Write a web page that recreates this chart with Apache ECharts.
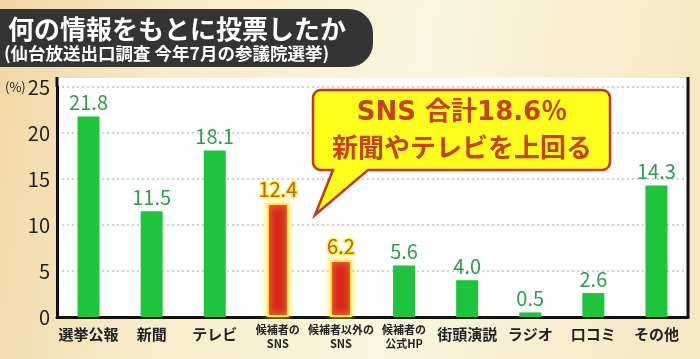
<!DOCTYPE html>
<html><head><meta charset="utf-8">
<script src="https://cdn.jsdelivr.net/npm/echarts@6/dist/echarts.min.js"></script>
<style>html,body{margin:0;padding:0;}#c{width:700px;height:359px;}</style>
</head><body><div id="c"></div>
<script>
const categories = ['選挙公報','新聞','テレビ','候補者の\nSNS','候補者以外の\nSNS','候補者の\n公式HP','街頭演説','ラジオ','口コミ','その他'];
const values = [21.8, 11.5, 18.1, 12.4, 6.2, 5.6, 4.0, 0.5, 2.6, 14.3];
const snsFlags = [false, false, false, true, true, false, false, false, false, false];
const titleText = '何の情報をもとに投票したか';
const subtitleText = '(仙台放送出口調査 今年7月の参議院選挙)';
const calloutLines = ['SNS 合計18.6％', '新聞やテレビを上回る'];
const yTicks = [0, 5, 10, 15, 20, 25];

const FONT = '"Noto Sans CJK JP", "Noto Sans", sans-serif';
const WIDE = '"DejaVu Sans", "Noto Sans CJK JP", sans-serif';
const chart = echarts.init(document.getElementById('c'));

function arcPts(cx, cy, r, a0, a1) {
  const pts = [];
  for (let k = 0; k <= 6; k++) {
    const a = a0 + (a1 - a0) * k / 6;
    pts.push([cx + r * Math.cos(a), cy + r * Math.sin(a)]);
  }
  return pts;
}
function calloutPoints(x0, y0, x1, y1, r, baseL, baseR, tip) {
  const P = Math.PI;
  return [].concat(
    arcPts(x0 + r, y0 + r, r, P, 1.5 * P),
    arcPts(x1 - r, y0 + r, r, 1.5 * P, 2 * P),
    arcPts(x1 - r, y1 - r, r, 0, 0.5 * P),
    [[baseR, y1], tip, [baseL, y1]],
    arcPts(x0 + r, y1 - r, r, 0.5 * P, P)
  );
}

const barData = values.map((v, i) => snsFlags[i] ? {
  value: v,
  itemStyle: { color: '#d9291c', borderColor: '#ffe94a', borderWidth: 2, shadowColor: 'rgba(255,230,60,0.9)', shadowBlur: 6 },
  label: { color: '#bf5f1a', textBorderColor: '#fff04a', textBorderWidth: 3 }
} : { value: v });

chart.setOption({
  animation: false,
  backgroundColor: {
    type: 'linear', x: 0, y: 0, x2: 1, y2: 0.3,
    colorStops: [{ offset: 0, color: '#f1d6a2' }, { offset: 0.25, color: '#f7ebc8' }, { offset: 0.6, color: '#faf6df' }, { offset: 1, color: '#f6e8c4' }]
  },
  grid: { left: 57, right: 12, top: 87, bottom: 42 },
  xAxis: {
    type: 'category', data: categories,
    axisLine: { lineStyle: { color: '#111', width: 3 } },
    axisTick: { show: false },
    axisLabel: {
      interval: 0, margin: 6,
      formatter: (s) => s.indexOf('\n') >= 0 ? s.split('\n').map(t => '{s|' + t + '}').join('\n') : '{b|' + s + '}',
      rich: {
        b: { fontFamily: FONT, fontSize: 15, fontWeight: 'bold', color: '#222', lineHeight: 20, padding: [3, 0, 0, 0] },
        s: { fontFamily: FONT, fontSize: 11, fontWeight: 'bold', color: '#222', lineHeight: 14 }
      }
    }
  },
  yAxis: {
    type: 'value', min: 0, max: 25, interval: 5,
    axisLine: { show: true, lineStyle: { color: '#111', width: 3 } },
    axisTick: { show: false },
    axisLabel: { fontFamily: FONT, fontSize: 20, color: '#222', margin: 7 },
    splitLine: { lineStyle: { color: '#c4c4c4', type: [2, 3], width: 1.5 } }
  },
  series: [{
    type: 'bar', data: barData, barWidth: 22,
    itemStyle: { color: '#1ec43c' },
    label: {
      show: true, position: 'top', distance: 4,
      fontFamily: FONT, fontSize: 20, color: '#2b9e4c',
      formatter: (p) => p.value.toFixed(1)
    },
    z: 3
  }],
  graphic: [
    { type: 'rect', z: -10, silent: true, shape: { x: 57, y: 78, width: 631, height: 239 }, style: { fill: '#ffffff' } },
    { type: 'line', z: 5, silent: true, shape: { x1: 688, y1: 77, x2: 688, y2: 318 }, style: { stroke: '#111', lineWidth: 3 } },
    { type: 'line', z: 5, silent: true, shape: { x1: 57, y1: 77, x2: 57, y2: 87 }, style: { stroke: '#111', lineWidth: 3 } },
    { type: 'text', z: 5, silent: true, style: { text: '(%)', x: 5, y: 87, font: '13px ' + FONT, fill: '#222', textVerticalAlign: 'middle' } },
    { type: 'rect', z: 5, silent: true, shape: { x: -30, y: 9, width: 403, height: 58, r: 24 }, style: { fill: '#343434' } },
    { type: 'text', z: 6, silent: true, style: { text: titleText, x: 8, y: 29, font: 'bold 26px ' + FONT, fill: '#ffffff', textVerticalAlign: 'middle' } },
    { type: 'text', z: 6, silent: true, style: { text: subtitleText, x: 4, y: 53, font: 'bold 17.5px ' + FONT, fill: '#ffffff', textVerticalAlign: 'middle' } },
    { type: 'polygon', z: 10, silent: true,
      shape: { points: calloutPoints(313, 90, 610, 170, 8, 333, 368, [315, 215]) },
      style: { fill: '#ffff1e', stroke: '#c8341c', lineWidth: 2.5 } },
    { type: 'text', z: 11, silent: true, style: { text: calloutLines[0], x: 462, y: 113, font: 'bold 26px ' + WIDE, fill: '#c8401c', textAlign: 'center', textVerticalAlign: 'middle' } },
    { type: 'text', z: 11, silent: true, style: { text: calloutLines[1], x: 462, y: 147, font: 'bold 26px ' + FONT, fill: '#c8401c', textAlign: 'center', textVerticalAlign: 'middle' } }
  ]
});
</script></body></html>
